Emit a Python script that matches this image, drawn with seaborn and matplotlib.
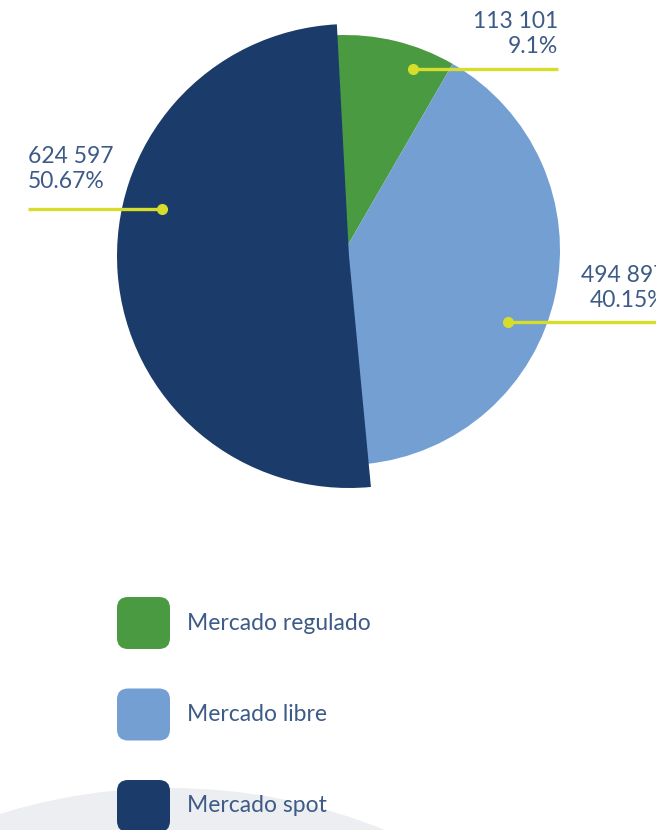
import matplotlib.pyplot as plt
import numpy as np
import seaborn as sns
from matplotlib.patches import Circle, FancyBboxPatch


# Datos del grafico (tal como aparecen en la imagen).
CATEGORIAS = ["Mercado regulado", "Mercado libre", "Mercado spot"]
VALORES = [113101, 494897, 624597]
PORCENTAJES = ["9.1%", "40.15%", "50.67%"]

# Colores.
COLORES = ["#4a9a41", "#739fd3", "#1b3c6a"]
COLOR_TEXTO = "#3d5b86"
COLOR_LINEA = "#d6dd2b"
COLOR_FONDO = "#eceef1"

# Lienzo en pixeles (y hacia arriba).
ANCHO, ALTO = 656, 830
CENTRO = (345, ALTO - 250)
RADIO = 215
# La porcion spot aparece resaltada: algo desplazada y con mayor radio.
CENTRO_SPOT = (349, ALTO - 256)
RADIO_SPOT = 232
ANGULO_INICIO = 93

# Posicion del punto de cada etiqueta: (fraccion del arco, fraccion del radio).
POS_PUNTO = [(0.71, 0.90), (0.58, 0.83), (0.60, 0.83)]
# Extremo de la linea guia y alineacion del texto.
FIN_LINEA = [558, 660, 28]
TEXTO_X = [558, 666, 28]
TEXTO_HA = ["right", "right", "left"]
TEXTO_DY = [35, 34, 40]


def px(y: float) -> float:
    """Convierte coordenada y de pixel (desde arriba) a datos."""
    return ALTO - y


def main() -> None:
    sns.set_theme(style="white")
    plt.rcParams["font.family"] = ["Lato", "DejaVu Sans"]

    fig = plt.figure(figsize=(ANCHO / 100, ALTO / 100), dpi=100)
    ax = fig.add_axes([0, 0, 1, 1])

    # Arco gris decorativo del fondo.
    ax.add_patch(Circle((170, px(1359)), 571, color=COLOR_FONDO, zorder=0, lw=0))

    wedges, _ = ax.pie(
        VALORES,
        colors=COLORES,
        startangle=ANGULO_INICIO,
        counterclock=False,
        center=CENTRO,
        radius=RADIO,
        wedgeprops={"linewidth": 0, "antialiased": True},
    )
    wedges[2].set_center(CENTRO_SPOT)
    wedges[2].set_radius(RADIO_SPOT)
    wedges[2].set_zorder(2)

    ax.set_xlim(0, ANCHO)
    ax.set_ylim(0, ALTO)
    ax.set_aspect("equal")
    ax.axis("off")

    # Etiquetas con linea guia.
    for i, w in enumerate(wedges):
        frac, rfrac = POS_PUNTO[i]
        t1, t2 = w.theta1, w.theta2
        ang = np.deg2rad(t2 - frac * (t2 - t1))
        r = w.r * rfrac
        cx, cy = w.center
        xp = cx + r * np.cos(ang)
        yp = cy + r * np.sin(ang)

        ax.plot([xp, FIN_LINEA[i]], [yp, yp], color=COLOR_LINEA, lw=2.4,
                solid_capstyle="butt", zorder=3, clip_on=False)
        ax.plot(xp, yp, "o", color=COLOR_LINEA, ms=7, zorder=4)

        valor = f"{VALORES[i]:,}".replace(",", " ")
        ax.text(TEXTO_X[i], yp + TEXTO_DY[i], f"{valor}\n{PORCENTAJES[i]}",
                ha=TEXTO_HA[i], va="center", multialignment=TEXTO_HA[i],
                fontsize=16.5, color=COLOR_TEXTO, linespacing=1.22, zorder=5)

    # Leyenda con cuadros redondeados.
    for i, (cat, color) in enumerate(zip(CATEGORIAS, COLORES)):
        y_centro = px(623 + i * 91.5)
        ax.add_patch(FancyBboxPatch(
            (117, y_centro - 26), 53, 52,
            boxstyle="round,pad=0,rounding_size=11",
            facecolor=color, edgecolor="none", zorder=3, clip_on=False,
        ))
        ax.text(187, y_centro, cat, ha="left", va="center",
                fontsize=16.5, color=COLOR_TEXTO, zorder=5)

    fig.savefig("out.png", dpi=100)
    plt.close(fig)


if __name__ == "__main__":
    main()
